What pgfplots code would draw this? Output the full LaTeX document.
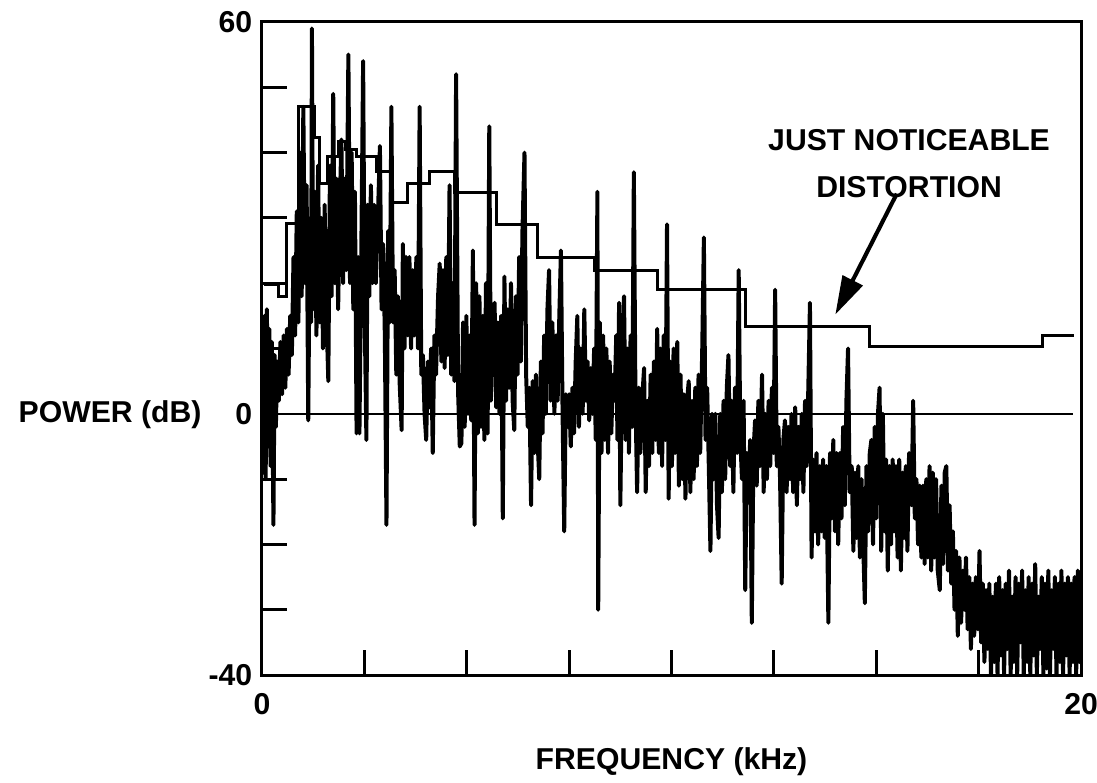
\documentclass[border=0pt]{standalone}
\usepackage{fontspec}
\setmainfont{Liberation Sans}
\usepackage{pgfplots}
\pgfplotsset{compat=1.18}
\usetikzlibrary{arrows.meta}

\begin{document}
\begin{tikzpicture}
\useasboundingbox (-95.5pt,-39pt) rectangle (304.4pt,246.1pt);
\begin{axis}[
    scale only axis,
    width=298.6pt, height=238.1pt,
    xmin=0, xmax=20, ymin=-40, ymax=60,
    axis line style={line width=1.1pt},
    tick align=inside, tick pos=left,
    xtick={0,20}, xticklabels={0,20},
    ytick={-40,0,60}, yticklabels={-40,0,60},
    minor xtick={2.5,5,7.5,10,12.5,15,17.5},
    minor ytick={-30,-20,-10,10,20,30,40,50},
    major tick length=0pt, minor tick length=9pt,
    every tick/.style={line width=1.1pt, black},
    ticklabel style={font=\bfseries\fontsize{11}{13}\selectfont},
    xticklabel style={yshift=-3.3pt},
    label style={font=\bfseries\fontsize{11}{13}\selectfont},
    xlabel={FREQUENCY (kHz)},
    xlabel style={at={(axis description cs:0.5,-0.133)}, anchor=center},
    ylabel={POWER (dB)},
    ylabel style={at={(axis description cs:-0.1855,0.398)}, anchor=center, rotate=-90},
]

% measured spectrum (dense trace)
\addplot[black, line width=1.45pt, line join=round] coordinates {
(0.00,4) (0.03,-9) (0.06,15) (0.09,-10) (0.12,16) (0.15,-5) (0.18,13) (0.21,-8) (0.24,11) (0.28,-17)
(0.31,9) (0.34,-2) (0.37,8) (0.41,2) (0.45,11) (0.49,3) (0.53,12) (0.57,4) (0.61,13) (0.65,6)
(0.69,15) (0.73,9) (0.77,24) (0.81,12) (0.85,31) (0.89,14) (0.93,40) (0.97,18) (1.01,47) (1.05,20)
(1.09,35) (1.13,-1) (1.17,30) (1.20,14) (1.22,59) (1.25,16) (1.29,34) (1.33,12) (1.37,38) (1.41,14)
(1.45,30) (1.49,10) (1.53,32) (1.57,16) (1.62,5) (1.66,38) (1.70,18) (1.74,49) (1.78,20) (1.82,36)
(1.86,16) (1.90,32) (1.94,42) (1.98,20) (2.02,36) (2.06,22) (2.11,55) (2.15,20) (2.19,40) (2.23,16)
(2.27,34) (2.31,-3) (2.35,24) (2.38,-3) (2.43,28) (2.47,54) (2.51,14) (2.55,-4) (2.58,32) (2.62,18)
(2.66,35) (2.70,20) (2.74,32) (2.78,20) (2.83,30) (2.88,41) (2.92,16) (2.96,26) (3.00,12) (3.04,-17)
(3.08,28) (3.12,14) (3.16,47) (3.20,14) (3.24,22) (3.28,6) (3.32,18) (3.36,5) (3.41,-2.5) (3.44,26)
(3.48,10) (3.52,24) (3.56,12) (3.60,24) (3.64,10) (3.68,22) (3.72,12) (3.77,24) (3.81,10) (3.85,47)
(3.89,6) (3.93,9) (3.97,0) (4.01,-4) (4.05,8) (4.09,1) (4.13,10) (4.17,-6) (4.21,12) (4.25,6)
(4.30,18) (4.34,23) (4.38,8) (4.42,22) (4.46,7) (4.50,24) (4.54,9) (4.58,35) (4.62,6) (4.66,20)
(4.70,5) (4.74,52) (4.79,3) (4.83,-5) (4.87,-4.5) (4.91,14) (4.95,-2) (4.99,15) (5.03,0) (5.07,12)
(5.11,-1) (5.15,25) (5.19,-17) (5.23,20) (5.27,-3) (5.31,18) (5.35,-2) (5.39,15) (5.43,-4) (5.47,20)
(5.51,-3) (5.55,44) (5.59,2) (5.63,12) (5.68,17) (5.72,1) (5.76,14) (5.80,0) (5.84,15) (5.88,-16)
(5.92,21) (5.96,2) (6.00,16) (6.04,4) (6.08,20) (6.12,2) (6.16,-2.5) (6.20,18) (6.24,6) (6.28,24)
(6.32,8) (6.36,28) (6.41,40) (6.45,6) (6.49,-2) (6.53,4) (6.57,-14) (6.61,5) (6.65,-6) (6.69,6)
(6.73,-4) (6.77,-10) (6.81,8) (6.85,-3) (6.89,12) (6.93,0) (6.97,16) (7.01,22) (7.05,2) (7.09,14)
(7.14,0) (7.18,12) (7.22,2) (7.26,15) (7.30,25) (7.34,0) (7.38,-18) (7.42,3) (7.46,-2) (7.50,3)
(7.54,-5) (7.58,4) (7.62,-3) (7.66,8) (7.70,15) (7.74,-2) (7.78,10) (7.83,0) (7.87,16) (7.91,2)
(7.95,8) (7.99,-1) (8.03,7) (8.07,0) (8.11,10) (8.15,-4) (8.19,34) (8.21,-30) (8.25,14) (8.29,-6)
(8.33,12) (8.37,-4) (8.41,10) (8.45,-6) (8.49,8) (8.53,-3) (8.57,6) (8.61,2) (8.65,12) (8.68,-4)
(8.72,17) (8.75,-14) (8.80,10) (8.84,18) (8.88,-4) (8.92,10) (8.96,-6) (9.00,12) (9.04,-2) (9.08,37)
(9.12,2) (9.16,-12) (9.20,4) (9.24,-6) (9.29,3) (9.33,7) (9.37,-12) (9.41,2) (9.45,-8) (9.49,6)
(9.53,-6) (9.57,8) (9.61,-4) (9.65,13) (9.69,-6) (9.73,10) (9.77,-8) (9.81,12) (9.85,-4) (9.89,29)
(9.93,-13) (9.97,8) (10.01,-8) (10.05,10) (10.09,-6) (10.14,11) (10.18,-11) (10.22,6) (10.26,-10) (10.30,3)
(10.34,-13) (10.38,2) (10.42,5) (10.46,-12) (10.50,2) (10.54,-10) (10.58,4) (10.62,-8) (10.66,6) (10.70,-6)
(10.75,10) (10.79,27) (10.83,-4) (10.87,4) (10.91,-8) (10.95,-21) (10.99,0) (11.03,-10) (11.07,0) (11.11,-14)
(11.15,-19) (11.19,0) (11.23,-12) (11.27,2) (11.31,-10) (11.35,4) (11.39,9) (11.43,-8) (11.47,2) (11.51,-12)
(11.55,4) (11.60,-6) (11.64,22) (11.68,-4) (11.72,-10) (11.76,2) (11.80,-27) (11.84,-6) (11.88,-12) (11.92,-4)
(11.96,-32) (12.00,-6) (12.04,-1) (12.08,-11) (12.12,2) (12.16,-8) (12.21,6) (12.25,-12) (12.29,0) (12.33,-10)
(12.37,2) (12.41,-8) (12.45,4) (12.49,-6) (12.53,19) (12.57,-8) (12.61,-2) (12.65,-10) (12.69,-26) (12.73,-4)
(12.77,-1) (12.81,-12) (12.85,-2) (12.89,-10) (12.93,0) (12.97,-12) (13.02,1) (13.06,-14) (13.10,-2) (13.14,-10)
(13.18,0) (13.22,-12) (13.26,2) (13.30,-8) (13.34,4) (13.38,17) (13.42,-22) (13.46,-7) (13.50,-18) (13.54,-6)
(13.58,-20) (13.62,-8) (13.66,-18) (13.70,-7) (13.74,-19) (13.78,-8) (13.83,-32) (13.87,-6) (13.91,-16) (13.95,-4)
(13.99,-18) (14.03,-6) (14.07,-20) (14.11,-6) (14.15,-16) (14.19,-2) (14.23,-14) (14.27,2) (14.31,10) (14.35,-12)
(14.40,-8) (14.44,-21) (14.48,-9) (14.52,-19) (14.56,-8) (14.60,-22) (14.64,-10) (14.68,-20) (14.72,-29) (14.76,-8)
(14.80,-18) (14.84,-6) (14.88,-4) (14.92,-20) (14.96,-2) (15.00,-16) (15.04,0) (15.08,4) (15.12,-21) (15.16,0)
(15.20,-18) (15.24,-7) (15.28,-24) (15.32,-8) (15.36,-20) (15.40,-7) (15.44,-18) (15.48,-8) (15.52,-22) (15.56,-7)
(15.60,-24) (15.64,-9) (15.68,-19) (15.72,-8) (15.76,-21) (15.80,-6) (15.86,-14) (15.90,2) (15.94,-16) (15.98,-10)
(16.02,-20) (16.06,-11) (16.10,-22) (16.14,-11) (16.18,-23) (16.22,-10) (16.26,-22) (16.30,-8) (16.34,-24) (16.38,-9)
(16.42,-22) (16.46,-10) (16.50,-24) (16.55,-27) (16.59,-11) (16.63,-23) (16.67,-9) (16.71,-8) (16.75,-24) (16.79,-14)
(16.83,-26) (16.87,-18) (16.91,-30) (16.95,-21) (16.99,-34) (17.03,-22) (17.07,-32) (17.11,-24) (17.15,-30) (17.19,-22)
(17.23,-33) (17.27,-25) (17.31,-36) (17.35,-26) (17.39,-34) (17.43,-25) (17.48,-33) (17.52,-21) (17.56,-35) (17.60,-26)
(17.64,-38) (17.68,-27) (17.72,-36) (17.76,-26) (17.80,-40) (17.84,-28) (17.88,-38) (17.92,-26) (17.96,-40) (18.00,-25)
(18.04,-37) (18.08,-27) (18.12,-40) (18.16,-26) (18.20,-36) (18.24,-24) (18.28,-40) (18.32,-28) (18.36,-38) (18.40,-25)
(18.44,-40) (18.48,-26) (18.52,-35) (18.56,-24) (18.60,-40) (18.64,-27) (18.68,-38) (18.72,-25) (18.76,-40) (18.80,-26)
(18.84,-37) (18.88,-23) (18.92,-40) (18.96,-28) (19.00,-36) (19.04,-25) (19.08,-40) (19.12,-26) (19.16,-39) (19.20,-24)
(19.24,-40) (19.28,-27) (19.32,-36) (19.36,-25) (19.40,-40) (19.44,-26) (19.48,-38) (19.52,-24) (19.56,-40) (19.60,-26)
(19.64,-37) (19.68,-25) (19.72,-40) (19.76,-26) (19.80,-38) (19.84,-25) (19.88,-40) (19.92,-24) (19.96,-38) (20.00,-25)
};

% just noticeable distortion threshold
\addplot[black, line width=1.1pt, const plot] coordinates {
(0.05,19.8) (0.41,18.0) (0.61,29.2) (0.88,47) (1.28,42.3) (1.40,35.3) (1.60,39.4)
(1.87,41.7) (2.05,40.5) (2.31,39.4) (2.80,37.1) (3.18,32.3) (3.55,35.2) (4.10,37.1)
(4.70,33.9) (5.72,29.0) (6.72,24.0) (8.12,22.0) (9.65,19.0) (11.80,13.4) (14.84,10.3)
(19.05,12.0) (19.83,12.0)
};

% 0 dB reference
\addplot[black, line width=0.8pt] coordinates {(0.37,0) (19.8,0)};

\node[font=\bfseries\fontsize{11}{13}\selectfont, align=center]
  at (axis cs:15.8,38.3) {JUST NOTICEABLE\\[4pt]DISTORTION};
\draw[line width=1.5pt, -{Triangle[length=14pt,width=8pt]}]
  (axis cs:15.5,33.7) -- (axis cs:14.0,15.2);
\end{axis}
\end{tikzpicture}
\end{document}
